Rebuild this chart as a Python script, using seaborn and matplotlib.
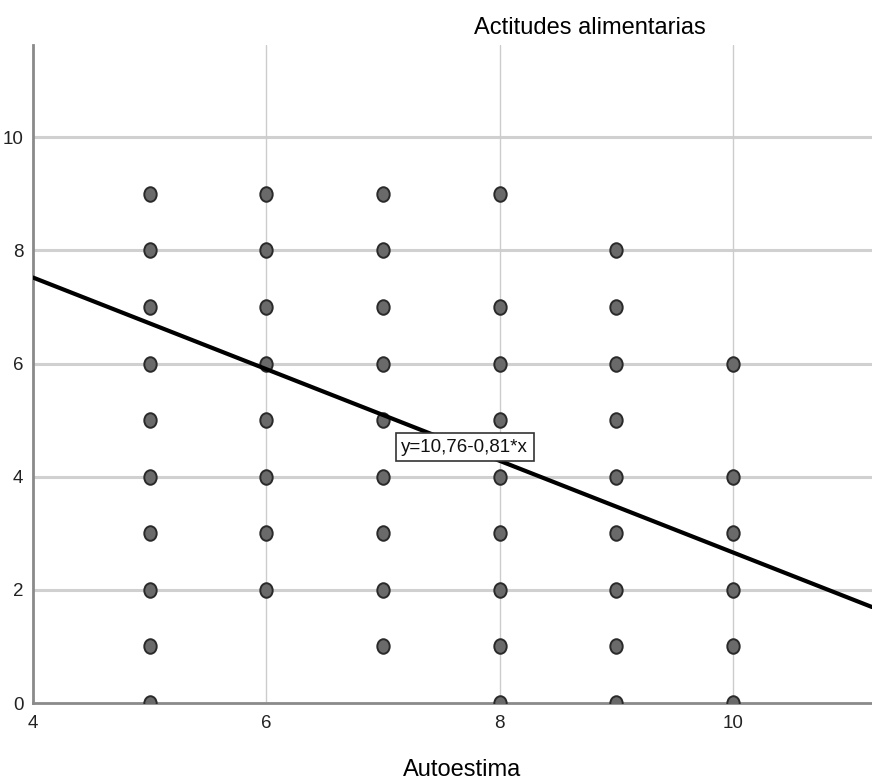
import matplotlib
matplotlib.use("Agg")
import matplotlib.pyplot as plt
import seaborn as sns
import pandas as pd
import numpy as np
from matplotlib.path import Path
from matplotlib.transforms import Affine2D

# Data (unique plotted combinations)
autoestima_5 = [0, 1, 2, 3, 4, 5, 6, 7, 8, 9]
autoestima_6 = [2, 3, 4, 5, 6, 7, 8, 9]
autoestima_7 = [1, 2, 3, 4, 5, 6, 7, 8, 9]
autoestima_8 = [0, 1, 2, 3, 4, 5, 6, 7, 9]
autoestima_9 = [0, 1, 2, 3, 4, 5, 6, 7, 8]
autoestima_10 = [0, 1, 2, 3, 4, 6]
groups = {5: autoestima_5, 6: autoestima_6, 7: autoestima_7,
          8: autoestima_8, 9: autoestima_9, 10: autoestima_10}

intercept = 10.76
slope = -0.81
equation_label = "y=10,76-0,81*x"
x_title = "Autoestima"
y_title = "Actitudes alimentarias"
x_ticks = [4, 6, 8, 10]
y_ticks = [0, 2, 4, 6, 8, 10]

rows = [(x, y) for x, ys in groups.items() for y in ys]
df = pd.DataFrame(rows, columns=["Autoestima", "Actitudes"])

sns.set_theme(style="white")
plt.rcParams['font.family'] = ['Liberation Sans', 'DejaVu Sans']

fig = plt.figure(figsize=(8.72, 7.81), dpi=100)
ax = fig.add_axes([33/872, 1 - 703/781, 1 - 33/872, (703 - 45)/781])

xmin, xmax = 4, 11.19
ymin, ymax = 0, 11.63

# grid
for yt in y_ticks[1:]:
    ax.axhline(yt, color="#d0d0d0", lw=2.2, zorder=0)
for xt in x_ticks[1:]:
    ax.axvline(xt, color="#cccccc", lw=1.0, zorder=0)

ellipse = Path.unit_circle().transformed(Affine2D().scale(0.85, 1.0))
sns.scatterplot(data=df, x="Autoestima", y="Actitudes", ax=ax,
                marker=ellipse, s=110, color="#6a6a6a",
                edgecolor="#2a2a2a", linewidth=1.4, zorder=3, legend=False)

xl = np.array([xmin, xmax])
sns.lineplot(x=xl, y=intercept + slope * xl, ax=ax, color="black", lw=3, zorder=4)

ax.text(7.70, 4.52, equation_label, ha="center", va="center",
        fontsize=13.5, color="#111111", zorder=5,
        bbox=dict(boxstyle="square,pad=0.3", fc="white", ec="#333333", lw=1.2))

ax.set_xlim(xmin, xmax)
ax.set_ylim(ymin, ymax)
ax.set_xticks(x_ticks)
ax.set_yticks(y_ticks)
ax.set_xlabel("")
ax.set_ylabel("")
for lab in ax.get_xticklabels() + ax.get_yticklabels():
    lab.set_fontsize(13.5)
    lab.set_color("#222222")
ax.tick_params(axis="x", length=0, pad=9)
ax.tick_params(axis="y", length=0, pad=7)
for side in ["top", "right"]:
    ax.spines[side].set_visible(False)
for side in ["left", "bottom"]:
    ax.spines[side].set_color("#8a8a8a")
    ax.spines[side].set_linewidth(2)
ax.set_facecolor("white")

fig.text(590/872, 1 - 28/781, y_title, ha="center", va="center", fontsize=17, color="#000000")
fig.text(462/872, 1 - 770/781, x_title, ha="center", va="center", fontsize=17, color="#000000")

fig.savefig("out.png", dpi=100)
